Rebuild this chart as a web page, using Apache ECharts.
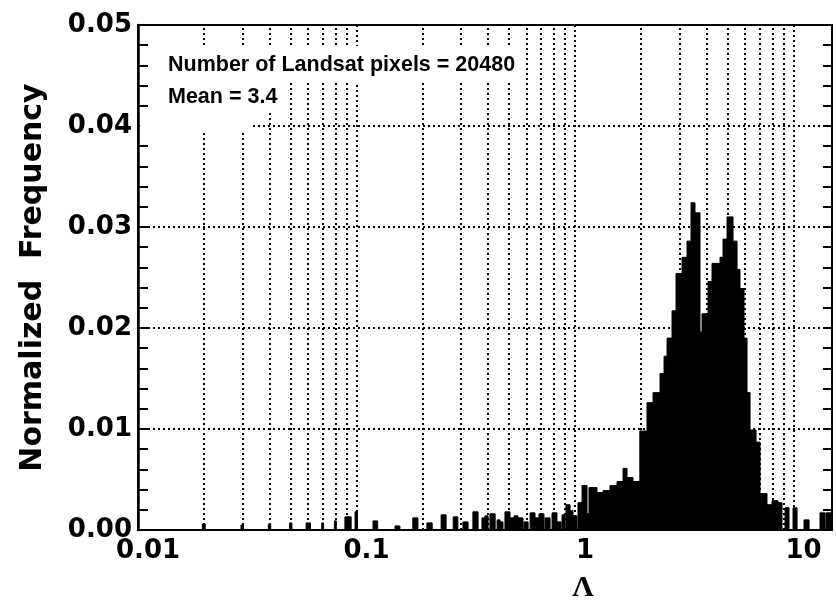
<!DOCTYPE html>
<html>
<head>
<meta charset="utf-8">
<script src="https://cdn.jsdelivr.net/npm/echarts@6/dist/echarts.min.js"></script>
<style>
  html, body { margin: 0; background: #fff; }
  #chart { width: 836px; height: 600px; }
</style>
</head>
<body>
<div id="chart"></div>
<script>
// histogram of Lambda: bin edges and normalized frequency
const binLo = [
  0.0197, 0.0296, 0.0395, 0.0494, 0.0588, 0.0693, 0.0792, 0.0885, 0.0985,
  0.119, 0.150, 0.181, 0.210, 0.244, 0.277, 0.307, 0.341, 0.375, 0.387,
  0.408, 0.440, 0.454, 0.478, 0.504, 0.526, 0.548, 0.584, 0.623, 0.656,
  0.684, 0.729, 0.785, 0.827, 0.872, 0.909, 0.949, 0.979, 1.032, 1.077,
  1.135, 1.159, 1.261, 1.343, 1.446, 1.557, 1.659, 1.730, 1.843, 1.980,
  2.135, 2.275, 2.449, 2.555, 2.637, 2.779, 2.899, 3.088, 3.255, 3.395,
  3.541, 3.733, 3.813, 4.062, 4.236, 4.609, 4.757, 4.963, 5.286, 5.514,
  5.690, 5.936, 6.127, 6.324, 6.737, 7.027, 7.561, 7.972, 8.495, 9.145,
  9.947, 11.17, 13.22, 14.09
];
const binHi = [
  0.0203, 0.0304, 0.0405, 0.0506, 0.0616, 0.0707, 0.0808, 0.0945, 0.1010,
  0.125, 0.158, 0.191, 0.222, 0.257, 0.291, 0.324, 0.360, 0.387, 0.400,
  0.431, 0.454, 0.468, 0.504, 0.526, 0.548, 0.578, 0.610, 0.656, 0.684,
  0.721, 0.769, 0.827, 0.863, 0.900, 0.949, 0.979, 1.021, 1.077, 1.135,
  1.159, 1.261, 1.343, 1.446, 1.557, 1.659, 1.730, 1.843, 1.980, 2.135,
  2.275, 2.449, 2.555, 2.637, 2.779, 2.899, 3.088, 3.255, 3.395, 3.541,
  3.733, 3.813, 4.062, 4.236, 4.609, 4.757, 4.963, 5.286, 5.514, 5.690,
  5.936, 6.127, 6.324, 6.737, 7.027, 7.561, 7.972, 8.495, 8.859, 9.537,
  10.38, 11.78, 13.94, 14.84
];
const freq = [
  0.0006, 0.0005, 0.0006, 0.0007, 0.0007, 0.0007, 0.0009, 0.0013, 0.0018,
  0.0009, 0.0004, 0.0012, 0.0007, 0.0015, 0.0013, 0.0008, 0.0018, 0.0012, 0.0014,
  0.0016, 0.0010, 0.0008, 0.0018, 0.0012, 0.0014, 0.0012, 0.0008, 0.0017, 0.0012,
  0.0016, 0.0012, 0.0017, 0.0008, 0.0015, 0.0025, 0.0019, 0.0014, 0.0027, 0.0044,
  0.0016, 0.0042, 0.0037, 0.0039, 0.0044, 0.0048, 0.0061, 0.0052, 0.0048, 0.0098,
  0.0126, 0.0136, 0.0155, 0.0172, 0.0190, 0.0217, 0.0254, 0.0270, 0.0286, 0.0324,
  0.0314, 0.0196, 0.0214, 0.0246, 0.0264, 0.0270, 0.0288, 0.0310, 0.0286, 0.0258,
  0.0239, 0.0190, 0.0136, 0.0099, 0.0087, 0.0036, 0.0025, 0.0029, 0.0027, 0.0022,
  0.0022, 0.0010, 0.0017, 0.0017
];
const xTickLabels = ['0.01', '0.1', '1', '10'];
const infoLines = ['Number of Landsat pixels = 20480', 'Mean = 3.4'];

// dotted grid at 2..9 of every decade
const minorGrid = [];
[0.01, 0.1, 1].forEach(function (d) {
  for (let k = 2; k <= 9; k++) minorGrid.push(+(k * d).toPrecision(2));
});

const bars = binLo.map((lo, i) => [lo, binHi[i], freq[i]]);

const chart = echarts.init(document.getElementById('chart'));
const dotted = { color: '#000', width: 2, type: [2, 3] };
const tickFont = { color: '#000', fontFamily: 'DejaVu Sans', fontWeight: 'bold', fontSize: 26 };

chart.setOption({
  backgroundColor: '#fff',
  animation: false,
  grid: {
    left: 138, right: 4, top: 25, bottom: 70,
    show: true, borderColor: '#000', borderWidth: 2
  },
  xAxis: {
    type: 'log', logBase: 10, min: 0.01, max: 15,
    axisLine: { lineStyle: { color: '#000', width: 2 } },
    axisTick: { show: false },
    axisLabel: Object.assign({}, tickFont, {
      margin: 8,
      padding: [0, 0, 0, 20],
      showMaxLabel: false,
      formatter: function (v) {
        const s = String(parseFloat(Number(v).toPrecision(3)));
        return xTickLabels.indexOf(s) >= 0 ? s : '';
      }
    }),
    splitLine: { show: true, lineStyle: dotted }
  },
  yAxis: [{
    type: 'value', min: 0, max: 0.05, interval: 0.01,
    name: 'Normalized  Frequency',
    nameLocation: 'middle', nameGap: 90,
    nameTextStyle: { color: '#000', fontFamily: 'DejaVu Sans', fontWeight: 'bold', fontSize: 30 },
    axisLine: { show: true, lineStyle: { color: '#000', width: 2.5 } },
    axisTick: { inside: true, length: 10, lineStyle: { color: '#000', width: 2 } },
    minorTick: { show: true, splitNumber: 5, length: 10, lineStyle: { color: '#000', width: 2 } },
    axisLabel: Object.assign({}, tickFont, {
      margin: 6,
      formatter: v => v.toFixed(2)
    }),
    splitLine: { show: true, lineStyle: dotted }
  }, {
    type: 'value', min: 0, max: 0.05, interval: 0.01, position: 'right',
    axisLine: { show: true, lineStyle: { color: '#000', width: 2 } },
    axisTick: { inside: true, length: 9, lineStyle: { color: '#000', width: 2 } },
    minorTick: { show: true, splitNumber: 5, length: 9, lineStyle: { color: '#000', width: 2 } },
    axisLabel: { show: false },
    splitLine: { show: false }
  }],
  series: [{
    type: 'line',
    data: [],
    z: 1,
    markLine: {
      z: 1,
      silent: true,
      symbol: 'none',
      label: { show: false },
      lineStyle: dotted,
      data: minorGrid.map(v => ({ xAxis: v }))
    }
  }, {
    type: 'custom',
    z: 3,
    data: bars,
    encode: { x: [0, 1], y: 2 },
    renderItem: function (params, api) {
      const p0 = api.coord([api.value(0), api.value(2)]);
      const p1 = api.coord([api.value(1), 0]);
      return {
        type: 'rect',
        shape: { x: p0[0], y: p0[1], width: p1[0] - p0[0], height: p1[1] - p0[1] },
        style: { fill: '#000', stroke: '#000', lineWidth: 1 }
      };
    }
  }],
  graphic: [
    { type: 'rect', z: 100, shape: { x: 160, y: 46, width: 362, height: 36 }, style: { fill: '#fff' } },
    { type: 'rect', z: 100, shape: { x: 160, y: 82, width: 122, height: 28 }, style: { fill: '#fff' } },
    { type: 'rect', z: 100, shape: { x: 140, y: 108, width: 112, height: 22 }, style: { fill: '#fff' } },
    {
      type: 'text', z: 101, left: 168, top: 54,
      style: { text: infoLines[0], fill: '#000', font: 'bold 21.5px "Liberation Sans", Arial, sans-serif' }
    },
    {
      type: 'text', z: 101, left: 168, top: 86,
      style: { text: infoLines[1], fill: '#000', font: 'bold 21.5px "Liberation Sans", Arial, sans-serif' }
    },
    {
      type: 'text', z: 101, x: 583, y: 588,
      style: { text: 'Λ', fill: '#000', align: 'center', verticalAlign: 'middle',
               font: 'bold 30px "Liberation Serif", "DejaVu Serif", serif' }
    }
  ]
});
</script>
</body>
</html>
